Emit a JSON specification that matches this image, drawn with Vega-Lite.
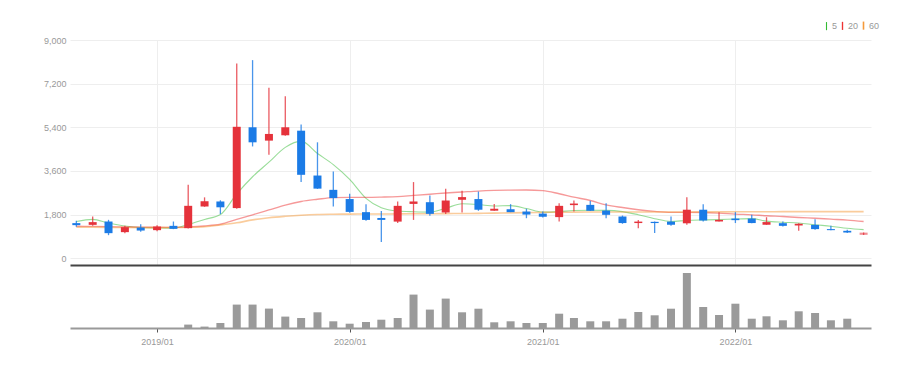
{
  "$schema": "https://vega.github.io/schema/vega-lite/v6.json",
  "padding": {"left": 5, "top": 21, "right": 5, "bottom": 5},
  "config": {
    "view": {"stroke": null},
    "font": "Liberation Sans, sans-serif"
  },
  "data": {"values": [
    {"date": "2018-08-01", "open": 1447, "high": 1540, "low": 1294, "close": 1364, "vol": 0, "ma5": 1513, "ma20": 1320, "ma60": 1280},
    {"date": "2018-09-01", "open": 1376, "high": 1720, "low": 1335, "close": 1488, "vol": 0, "ma5": 1600, "ma20": 1310, "ma60": 1275},
    {"date": "2018-10-01", "open": 1513, "high": 1583, "low": 950, "close": 1033, "vol": 0, "ma5": 1450, "ma20": 1300, "ma60": 1270},
    {"date": "2018-11-01", "open": 1075, "high": 1335, "low": 1033, "close": 1281, "vol": 0, "ma5": 1330, "ma20": 1290, "ma60": 1265},
    {"date": "2018-12-01", "open": 1265, "high": 1405, "low": 1087, "close": 1141, "vol": 0, "ma5": 1265, "ma20": 1280, "ma60": 1262},
    {"date": "2019-01-01", "open": 1157, "high": 1364, "low": 1116, "close": 1306, "vol": 0, "ma5": 1250, "ma20": 1275, "ma60": 1262},
    {"date": "2019-02-01", "open": 1335, "high": 1513, "low": 1199, "close": 1211, "vol": 0, "ma5": 1240, "ma20": 1272, "ma60": 1265},
    {"date": "2019-03-01", "open": 1240, "high": 3030, "low": 1223, "close": 2161, "vol": 34000, "ma5": 1390, "ma20": 1290, "ma60": 1275},
    {"date": "2019-04-01", "open": 2133, "high": 2510, "low": 2120, "close": 2350, "vol": 14000, "ma5": 1600, "ma20": 1330, "ma60": 1300},
    {"date": "2019-05-01", "open": 2340, "high": 2390, "low": 1820, "close": 2100, "vol": 50000, "ma5": 1800, "ma20": 1400, "ma60": 1370},
    {"date": "2019-06-01", "open": 2067, "high": 8030, "low": 2040, "close": 5420, "vol": 234000, "ma5": 2650, "ma20": 1600, "ma60": 1460},
    {"date": "2019-07-01", "open": 5400, "high": 8170, "low": 4610, "close": 4780, "vol": 234000, "ma5": 3360, "ma20": 1790, "ma60": 1580},
    {"date": "2019-08-01", "open": 4850, "high": 7030, "low": 4270, "close": 5125, "vol": 194000, "ma5": 3960, "ma20": 1990, "ma60": 1670},
    {"date": "2019-09-01", "open": 5070, "high": 6680, "low": 5050, "close": 5400, "vol": 114000, "ma5": 4570, "ma20": 2190, "ma60": 1730},
    {"date": "2019-10-01", "open": 5260, "high": 5510, "low": 3140, "close": 3440, "vol": 100000, "ma5": 4830, "ma20": 2340, "ma60": 1775},
    {"date": "2019-11-01", "open": 3410, "high": 4780, "low": 2860, "close": 2870, "vol": 157000, "ma5": 4320, "ma20": 2430, "ma60": 1805},
    {"date": "2019-12-01", "open": 2820, "high": 3580, "low": 2130, "close": 2480, "vol": 67000, "ma5": 3860, "ma20": 2500, "ma60": 1815},
    {"date": "2020-01-01", "open": 2440, "high": 2660, "low": 1880, "close": 1910, "vol": 43000, "ma5": 3250, "ma20": 2510, "ma60": 1820},
    {"date": "2020-02-01", "open": 1900, "high": 2230, "low": 1550, "close": 1580, "vol": 60000, "ma5": 2470, "ma20": 2510, "ma60": 1822},
    {"date": "2020-03-01", "open": 1660, "high": 1950, "low": 670, "close": 1580, "vol": 83000, "ma5": 2080, "ma20": 2520, "ma60": 1825},
    {"date": "2020-04-01", "open": 1510, "high": 2340, "low": 1450, "close": 2160, "vol": 100000, "ma5": 1945, "ma20": 2540, "ma60": 1828},
    {"date": "2020-05-01", "open": 2240, "high": 3140, "low": 1580, "close": 2340, "vol": 334000, "ma5": 1915, "ma20": 2590, "ma60": 1832},
    {"date": "2020-06-01", "open": 2310, "high": 2590, "low": 1750, "close": 1830, "vol": 184000, "ma5": 1900, "ma20": 2640, "ma60": 1836},
    {"date": "2020-07-01", "open": 1885, "high": 2860, "low": 1820, "close": 2380, "vol": 294000, "ma5": 2060, "ma20": 2690, "ma60": 1840},
    {"date": "2020-08-01", "open": 2410, "high": 2780, "low": 1885, "close": 2520, "vol": 157000, "ma5": 2245, "ma20": 2730, "ma60": 1845},
    {"date": "2020-09-01", "open": 2440, "high": 2750, "low": 1955, "close": 2000, "vol": 193000, "ma5": 2215, "ma20": 2770, "ma60": 1850},
    {"date": "2020-10-01", "open": 1960, "high": 2240, "low": 1955, "close": 2040, "vol": 57000, "ma5": 2155, "ma20": 2795, "ma60": 1860},
    {"date": "2020-11-01", "open": 2020, "high": 2230, "low": 1900, "close": 1900, "vol": 67000, "ma5": 2170, "ma20": 2810, "ma60": 1870},
    {"date": "2020-12-01", "open": 1925, "high": 2040, "low": 1650, "close": 1800, "vol": 50000, "ma5": 2050, "ma20": 2815, "ma60": 1880},
    {"date": "2021-01-01", "open": 1840, "high": 1925, "low": 1680, "close": 1710, "vol": 50000, "ma5": 1900, "ma20": 2790, "ma60": 1890},
    {"date": "2021-02-01", "open": 1695, "high": 2270, "low": 1510, "close": 2160, "vol": 143000, "ma5": 1922, "ma20": 2660, "ma60": 1895},
    {"date": "2021-03-01", "open": 2190, "high": 2380, "low": 1925, "close": 2255, "vol": 100000, "ma5": 1965, "ma20": 2520, "ma60": 1900},
    {"date": "2021-04-01", "open": 2200, "high": 2370, "low": 1950, "close": 1955, "vol": 67000, "ma5": 1976, "ma20": 2380, "ma60": 1905},
    {"date": "2021-05-01", "open": 1965, "high": 2270, "low": 1650, "close": 1790, "vol": 67000, "ma5": 1974, "ma20": 2200, "ma60": 1905},
    {"date": "2021-06-01", "open": 1720, "high": 1760, "low": 1420, "close": 1450, "vol": 93000, "ma5": 1922, "ma20": 2090, "ma60": 1905},
    {"date": "2021-07-01", "open": 1450, "high": 1580, "low": 1240, "close": 1510, "vol": 160000, "ma5": 1792, "ma20": 2000, "ma60": 1905},
    {"date": "2021-08-01", "open": 1500, "high": 1515, "low": 1035, "close": 1450, "vol": 127000, "ma5": 1631, "ma20": 1930, "ma60": 1905},
    {"date": "2021-09-01", "open": 1510, "high": 1720, "low": 1335, "close": 1380, "vol": 193000, "ma5": 1516, "ma20": 1890, "ma60": 1905},
    {"date": "2021-10-01", "open": 1440, "high": 2510, "low": 1380, "close": 2000, "vol": 550000, "ma5": 1558, "ma20": 1890, "ma60": 1908},
    {"date": "2021-11-01", "open": 2000, "high": 2230, "low": 1510, "close": 1555, "vol": 210000, "ma5": 1579, "ma20": 1885, "ma60": 1910},
    {"date": "2021-12-01", "open": 1515, "high": 1900, "low": 1510, "close": 1580, "vol": 130000, "ma5": 1593, "ma20": 1860, "ma60": 1912},
    {"date": "2022-01-01", "open": 1635, "high": 1900, "low": 1450, "close": 1570, "vol": 243000, "ma5": 1617, "ma20": 1820, "ma60": 1914},
    {"date": "2022-02-01", "open": 1635, "high": 1790, "low": 1440, "close": 1450, "vol": 93000, "ma5": 1631, "ma20": 1790, "ma60": 1916},
    {"date": "2022-03-01", "open": 1380, "high": 1690, "low": 1376, "close": 1490, "vol": 117000, "ma5": 1529, "ma20": 1750, "ma60": 1918},
    {"date": "2022-04-01", "open": 1445, "high": 1510, "low": 1305, "close": 1335, "vol": 77000, "ma5": 1485, "ma20": 1720, "ma60": 1920},
    {"date": "2022-05-01", "open": 1350, "high": 1440, "low": 1130, "close": 1420, "vol": 167000, "ma5": 1453, "ma20": 1680, "ma60": 1920},
    {"date": "2022-06-01", "open": 1375, "high": 1610, "low": 1170, "close": 1200, "vol": 150000, "ma5": 1379, "ma20": 1650, "ma60": 1920},
    {"date": "2022-07-01", "open": 1200, "high": 1335, "low": 1150, "close": 1157, "vol": 77000, "ma5": 1320, "ma20": 1610, "ma60": 1920},
    {"date": "2022-08-01", "open": 1130, "high": 1170, "low": 1035, "close": 1060, "vol": 93000, "ma5": 1234, "ma20": 1570, "ma60": 1920},
    {"date": "2022-09-01", "open": 965, "high": 1060, "low": 960, "close": 1055, "vol": 0, "ma5": 1178, "ma20": 1515, "ma60": 1920}
  ]},
  "spacing": 4,
  "resolve": {"scale": {"x": "shared"}},
  "vconcat": [
    {
      "width": 801,
      "height": 225,
      "layer": [
        {
          "transform": [{"fold": ["ma5", "ma20", "ma60"], "as": ["key", "value"]}],
          "mark": {"type": "line", "opacity": 0.5, "interpolate": "monotone"},
          "encoding": {
            "x": {
              "field": "date", "type": "temporal",
              "scale": {"type": "utc", "padding": 0, "domain": [{"year": 2018, "month": 7, "date": 20, "utc": true}, {"year": 2022, "month": 9, "date": 15, "utc": true}]},
              "axis": {
                "title": null, "labels": false, "ticks": false, "grid": true, "gridColor": "#eeeeee",
                "domain": true, "domainColor": "#444444", "domainWidth": 2,
                "values": [{"year": 2019, "month": 1, "date": 1, "utc": true}, {"year": 2020, "month": 1, "date": 1, "utc": true}, {"year": 2021, "month": 1, "date": 1, "utc": true}, {"year": 2022, "month": 1, "date": 1, "utc": true}],
                "minExtent": 0, "maxExtent": 0
              }
            },
            "y": {
              "field": "value", "type": "quantitative",
              "scale": {"domain": [-280, 9000], "nice": false, "zero": false},
              "axis": {
                "title": null, "values": [0, 1800, 3600, 5400, 7200, 9000], "format": ",.0f",
                "grid": true, "gridColor": "#eeeeee", "domain": false, "ticks": false,
                "labelColor": "#999999", "labelFontSize": 9, "labelPadding": 4,
                "minExtent": 65, "maxExtent": 65
              }
            },
            "color": {
              "field": "key", "type": "nominal",
              "scale": {"domain": ["ma5", "ma20", "ma60"], "range": ["#33bb33", "#ee3333", "#f59a3a"]},
              "legend": {
                "orient": "none", "legendX": 752, "legendY": -19, "direction": "horizontal", "title": null,
                "symbolType": "M0,-2.7L0,2.7", "symbolStrokeWidth": 3.3, "symbolSize": 9, "symbolOpacity": 1,
                "labelFontSize": 9, "labelColor": "#999999", "labelOffset": 1, "columnPadding": 0,
                "labelExpr": "datum.label == 'ma5' ? '5' : datum.label == 'ma20' ? '20' : '60'"
              }
            },
            "strokeWidth": {
              "field": "key", "type": "nominal",
              "scale": {"domain": ["ma5", "ma20", "ma60"], "range": [1.1, 1.6, 2.2]},
              "legend": null
            }
          }
        },
        {
          "mark": {"type": "rule", "strokeWidth": 1.3, "opacity": 0.8},
          "encoding": {
            "x": {"field": "date", "type": "temporal"},
            "y": {"field": "low", "type": "quantitative"},
            "y2": {"field": "high"},
            "color": {"condition": {"test": "datum.close >= datum.open", "value": "#e5323b"}, "value": "#1b7be6"}
          }
        },
        {
          "mark": {"type": "bar", "width": 8},
          "encoding": {
            "x": {"field": "date", "type": "temporal"},
            "y": {"field": "open", "type": "quantitative"},
            "y2": {"field": "close"},
            "color": {"condition": {"test": "datum.close >= datum.open", "value": "#e5323b"}, "value": "#1b7be6"},
            "opacity": {"condition": {"test": "utcyear(datum.date) == 2022 && utcmonth(datum.date) == 8", "value": 0.55}, "value": 1}
          }
        }
      ]
    },
    {
      "width": 801,
      "height": 59,
      "mark": {"type": "bar", "width": 8, "color": "#9a9a9a"},
      "encoding": {
        "x": {
          "field": "date", "type": "temporal",
          "axis": {
            "title": null, "format": "%Y/%m", "grid": false,
            "values": [{"year": 2019, "month": 1, "date": 1, "utc": true}, {"year": 2020, "month": 1, "date": 1, "utc": true}, {"year": 2021, "month": 1, "date": 1, "utc": true}, {"year": 2022, "month": 1, "date": 1, "utc": true}],
            "domainColor": "#999999", "domainWidth": 2, "tickColor": "#555555", "tickSize": 4,
            "labelColor": "#999999", "labelFontSize": 9, "labelPadding": 5
          }
        },
        "y": {
          "field": "vol", "type": "quantitative",
          "scale": {"domain": [0, 590000], "nice": false},
          "axis": {
            "title": null, "labels": true, "labelOpacity": 0, "ticks": false, "domain": false, "grid": false,
            "tickCount": 2, "minExtent": 65, "maxExtent": 65
          }
        }
      }
    }
  ]
}
